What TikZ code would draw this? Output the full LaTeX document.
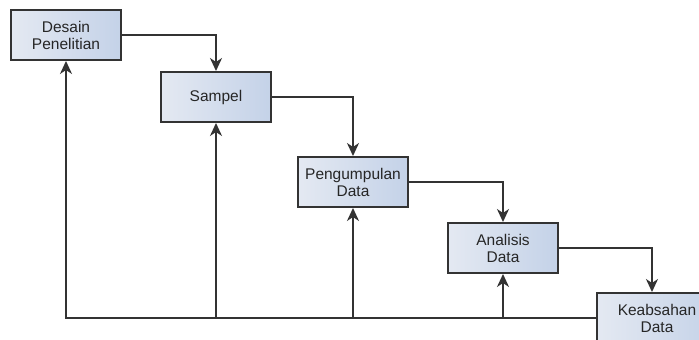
\documentclass[tikz,border=0pt]{standalone}
\usepackage{fontspec}
\setmainfont{Liberation Sans}
\usetikzlibrary{arrows.meta}
\definecolor{boxleft}{HTML}{E4E9F2}
\definecolor{boxright}{HTML}{C4D2E8}
\definecolor{edge}{HTML}{333333}
\begin{document}
\begin{tikzpicture}[x=1pt,y=-1pt,
  stepbox/.style={draw=edge,line width=2pt,left color=boxleft,right color=boxright,
    minimum width=110pt,minimum height=50pt,inner sep=0pt,align=center,
    font=\fontsize{15.5}{17}\selectfont,text=black!85},
  flow/.style={draw=edge,line width=2pt,-{Stealth[length=13pt,width=12pt,inset=4pt]}}]
\useasboundingbox (0,0) rectangle (699,340);
\fill[white] (0,0) rectangle (699,340);
\clip (0,0) rectangle (699,340);
\node[stepbox] (d) at (66,35) {Desain\\Penelitian};
\node[stepbox] (s) at (216,97) {Sampel};
\node[stepbox] (p) at (353,182) {Pengumpulan\\Data};
\node[stepbox] (a) at (503,248) {Analisis\\Data};
\node[stepbox,minimum width=120pt] (k) at (657,318) {Keabsahan\\Data};
\draw[flow] (d.east) -| (s.north);
\draw[flow] (s.east) -| (p.north);
\draw[flow] (p.east) -| (a.north);
\draw[flow] (a.east) -| ([xshift=-5pt]k.north);
\draw[flow] (k.west) -| (d.south);
\draw[flow] (s.south |- k.west) -- (s.south);
\draw[flow] (p.south |- k.west) -- (p.south);
\draw[flow] (a.south |- k.west) -- (a.south);
\end{tikzpicture}
\end{document}
